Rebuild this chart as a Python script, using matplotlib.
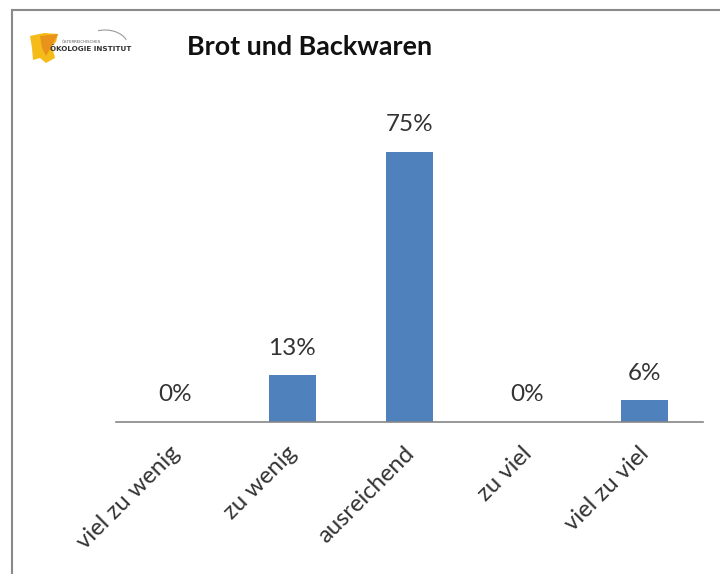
import matplotlib
matplotlib.use("Agg")
import matplotlib.pyplot as plt
from matplotlib.patches import Polygon, Arc
from matplotlib.lines import Line2D
from matplotlib.transforms import ScaledTranslation

categories = ["viel zu wenig", "zu wenig", "ausreichend", "zu viel", "viel zu viel"]
values = [0, 13, 75, 0, 6]
title = "Brot und Backwaren"

W, H = 720, 574
fig = plt.figure(figsize=(W / 100, H / 100), dpi=100)
fig.patch.set_facecolor("white")

def px(x, y):
    return x / W, 1 - y / H

# chart frame (top and left edges)
fig.add_artist(Line2D([12 / W, 1], [1 - 10 / H] * 2, color="#8a8a8a", lw=1.5))
fig.add_artist(Line2D([12 / W] * 2, [0, 1 - 10 / H], color="#8a8a8a", lw=1.5))

# plot area
left, right, base = 116, 703, 422
ymax = 80
scale = 3.6
top = base - ymax * scale
ax = fig.add_axes([left / W, 1 - base / H, (right - left) / W, (base - top) / H])
x = range(len(categories))
bars = ax.bar(x, values, width=0.4, color="#4F81BD")
ax.set_xlim(-0.5, len(categories) - 0.5)
ax.set_ylim(0, ymax)
for s in ["top", "right", "left"]:
    ax.spines[s].set_visible(False)
ax.spines["bottom"].set_color("#868686")
ax.spines["bottom"].set_linewidth(1.2)
ax.set_yticks([])
ax.set_xticks(list(x))
ax.set_xticklabels(categories, rotation=45, ha="right", rotation_mode="anchor",
                   fontsize=17.2, color="#333333", family="Lato")
ax.tick_params(axis="x", length=0, pad=15)
shift = ScaledTranslation(-6 / 100, 0, fig.dpi_scale_trans)
for lbl in ax.get_xticklabels():
    lbl.set_transform(lbl.get_transform() + shift)

for xi, v in zip(x, values):
    ax.annotate(f"{v}%", (xi, v), xytext=(0, 12), textcoords="offset points",
                ha="center", va="bottom", fontsize=17.5, color="#333333",
                family="Lato", annotation_clip=False)

fig.text(*px(187, 47), title, fontsize=19.4, fontweight="bold", family="Lato",
         ha="left", va="center", color="#111111")

# institute logo
logo = Polygon([px(30, 36), px(44, 33), px(58, 34), px(56, 42), px(52, 46),
                px(55, 58), px(46, 63), px(40, 58), px(33, 60), px(32, 48)],
               closed=True, facecolor="#f4b400", edgecolor="none", alpha=0.9)
fig.add_artist(logo)
logo2 = Polygon([px(40, 36), px(58, 34), px(52, 46), px(46, 56), px(42, 48)],
                closed=True, facecolor="#e8891c", edgecolor="none", alpha=0.8)
fig.add_artist(logo2)
fig.text(*px(50, 49), "ÖKOLOGIE INSTITUT", fontsize=5.2, fontweight="bold",
         family="DejaVu Sans", color="#333333", ha="left", va="center")
fig.text(*px(62, 42), "ÖSTERREICHISCHES", fontsize=2.8, family="DejaVu Sans",
         color="#555555", ha="left", va="center")
fig.add_artist(Arc(px(105, 46), 46 / W, 32 / H, theta1=20, theta2=110,
                   transform=fig.transFigure, color="#999999", lw=0.8))

fig.savefig("out.png", dpi=100)
